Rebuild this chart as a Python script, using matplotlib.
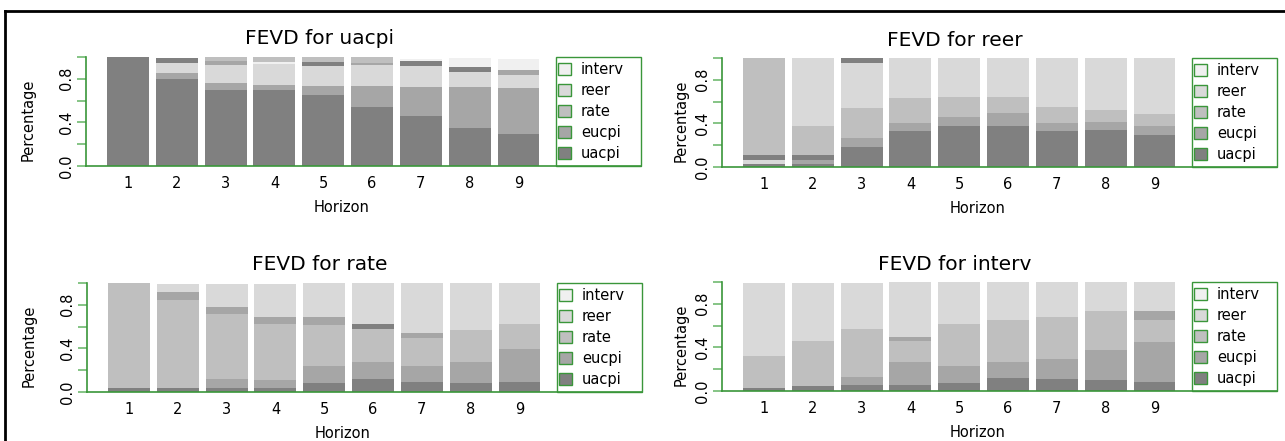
import matplotlib
matplotlib.use("Agg")
import matplotlib.pyplot as plt
from matplotlib.patches import Patch, Rectangle
from matplotlib.lines import Line2D

plt.rcParams["font.family"] = ["DejaVu Sans"]

W, H = 1285, 441

horizon = [1, 2, 3, 4, 5, 6, 7, 8, 9]
series = ["uacpi", "eucpi", "rate", "reer", "interv"]
shades = {
    "uacpi":  "#808080",
    "eucpi":  "#a6a6a6",
    "rate":   "#bfbfbf",
    "reer":   "#d9d9d9",
    "interv": "#f0f0f0",
}

# stacked segments of each bar, bottom -> top, as (series, cumulative top)
fevd_uacpi = [
    [("uacpi", 1.00)],
    [("uacpi", 0.80), ("eucpi", 0.856), ("reer", 0.948), ("uacpi", 0.99)],
    [("uacpi", 0.694), ("eucpi", 0.765), ("reer", 0.927), ("eucpi", 0.963), ("rate", 1.00)],
    [("uacpi", 0.694), ("eucpi", 0.74), ("reer", 0.933), ("interv", 0.954), ("rate", 1.00)],
    [("uacpi", 0.648), ("eucpi", 0.734), ("reer", 0.917), ("uacpi", 0.957), ("rate", 1.00)],
    [("uacpi", 0.538), ("eucpi", 0.734), ("reer", 0.927), ("eucpi", 0.948), ("rate", 1.00)],
    [("uacpi", 0.46), ("eucpi", 0.724), ("reer", 0.914), ("uacpi", 0.96), ("interv", 0.985)],
    [("uacpi", 0.346), ("eucpi", 0.728), ("reer", 0.865), ("uacpi", 0.911), ("interv", 0.988)],
    [("uacpi", 0.29), ("eucpi", 0.719), ("reer", 0.835), ("eucpi", 0.881), ("interv", 0.982)],
]

fevd_reer = [
    [("uacpi", 0.031), ("reer", 0.068), ("uacpi", 0.108), ("rate", 1.00)],
    [("uacpi", 0.031), ("eucpi", 0.068), ("uacpi", 0.108), ("rate", 0.38), ("reer", 1.00)],
    [("uacpi", 0.187), ("eucpi", 0.27), ("rate", 0.537), ("reer", 0.955), ("uacpi", 1.00)],
    [("uacpi", 0.331), ("eucpi", 0.405), ("rate", 0.635), ("reer", 1.00)],
    [("uacpi", 0.377), ("eucpi", 0.46), ("rate", 0.644), ("reer", 1.00)],
    [("uacpi", 0.377), ("eucpi", 0.497), ("rate", 0.644), ("reer", 1.00)],
    [("uacpi", 0.331), ("eucpi", 0.405), ("rate", 0.552), ("reer", 1.00)],
    [("uacpi", 0.335), ("eucpi", 0.41), ("rate", 0.52), ("reer", 1.00)],
    [("uacpi", 0.297), ("eucpi", 0.38), ("rate", 0.488), ("reer", 1.00)],
]

fevd_rate = [
    [("uacpi", 0.037), ("rate", 1.00)],
    [("uacpi", 0.037), ("rate", 0.844), ("eucpi", 0.92), ("reer", 0.994)],
    [("uacpi", 0.037), ("eucpi", 0.119), ("rate", 0.719), ("eucpi", 0.78), ("reer", 0.994)],
    [("uacpi", 0.037), ("eucpi", 0.11), ("rate", 0.624), ("eucpi", 0.691), ("reer", 0.994)],
    [("uacpi", 0.086), ("eucpi", 0.242), ("rate", 0.618), ("eucpi", 0.691), ("reer", 1.00)],
    [("uacpi", 0.122), ("eucpi", 0.278), ("rate", 0.581), ("uacpi", 0.624), ("reer", 1.00)],
    [("uacpi", 0.095), ("eucpi", 0.242), ("rate", 0.50), ("eucpi", 0.544), ("reer", 1.00)],
    [("uacpi", 0.086), ("eucpi", 0.278), ("rate", 0.572), ("reer", 1.00)],
    [("uacpi", 0.095), ("eucpi", 0.398), ("rate", 0.627), ("reer", 1.00)],
]

fevd_interv = [
    [("uacpi", 0.031), ("rate", 0.322), ("reer", 0.994)],
    [("uacpi", 0.049), ("rate", 0.46), ("reer", 0.994)],
    [("uacpi", 0.058), ("eucpi", 0.132), ("rate", 0.571), ("reer", 0.994)],
    [("uacpi", 0.058), ("eucpi", 0.267), ("rate", 0.46), ("eucpi", 0.497), ("reer", 1.00)],
    [("uacpi", 0.077), ("eucpi", 0.23), ("rate", 0.617), ("reer", 1.00)],
    [("uacpi", 0.123), ("eucpi", 0.267), ("rate", 0.653), ("reer", 1.00)],
    [("uacpi", 0.113), ("eucpi", 0.298), ("rate", 0.681), ("reer", 1.00)],
    [("uacpi", 0.099), ("eucpi", 0.377), ("rate", 0.731), ("reer", 1.00)],
    [("uacpi", 0.08), ("eucpi", 0.454), ("rate", 0.654), ("eucpi", 0.731), ("reer", 1.00)],
]

# title, data, (axes left px, axes bottom px), ylabel x offset
panels = [
    ("FEVD for uacpi",  fevd_uacpi,  (86, 166),  -0.09),
    ("FEVD for reer",   fevd_reer,   (722, 167), -0.061),
    ("FEVD for rate",   fevd_rate,   (87, 392),  -0.09),
    ("FEVD for interv", fevd_interv, (722, 391), -0.061),
]

AX_GREEN = "#3a963a"
TICK_GREEN = "#7cbf7c"

fig = plt.figure(figsize=(W / 100, H / 100), dpi=100)
fig.patch.set_facecolor("white")

for title, bars, (left, bottom), ylab_x in panels:
    ax = fig.add_axes([left / W, (H - bottom) / H, 555 / W, 109 / H])
    for h, segs in zip(horizon, bars):
        base = 0.0
        for name, top in segs:
            ax.bar(h, top - base, bottom=base, width=0.86,
                   color=shades[name], linewidth=0)
            base = top

    ax.set_xlim(0.139, 11.51)
    ax.set_ylim(0, 1.0)
    for s in ("top", "right"):
        ax.spines[s].set_visible(False)
    for s in ("left", "bottom"):
        ax.spines[s].set_color(AX_GREEN)
        ax.spines[s].set_linewidth(1.2)

    ax.set_xticks(horizon)
    ax.set_xticklabels([str(h) for h in horizon], fontsize=10.5)
    ax.tick_params(axis="x", length=0, pad=7)
    ax.set_yticks([0, 0.2, 0.4, 0.6, 0.8, 1.0])
    ax.set_yticklabels(["0.0", "", "0.4", "", "0.8", ""], rotation=90,
                       va="center", fontsize=10.5)
    ax.tick_params(axis="y", length=6.5, width=1.3, color=TICK_GREEN, pad=2)

    ax.set_title(title, fontsize=14.5, x=0.42, pad=9)
    ax.set_xlabel("Horizon", fontsize=10.5)
    ax.xaxis.set_label_coords(0.46, -0.31)
    ax.set_ylabel("Percentage", fontsize=10.5)
    ax.yaxis.set_label_coords(ylab_x, 0.42)

    # legend box
    ax.add_patch(Rectangle((0.847, 0), 0.153, 1.0, transform=ax.transAxes,
                           fill=False, edgecolor=AX_GREEN, linewidth=1.0,
                           clip_on=False))
    handles = [Patch(facecolor=shades[n], edgecolor=AX_GREEN, linewidth=1.0)
               for n in reversed(series)]
    ax.legend(handles, list(reversed(series)), loc="center left",
              bbox_to_anchor=(0.851, 0.5), frameon=False, fontsize=10.5,
              handlelength=0.85, handleheight=0.85, handletextpad=0.7,
              labelspacing=0.42, borderpad=0, borderaxespad=0)

# outer frame of the page
fig.add_artist(Line2D([5 / W, 5 / W], [0, (H - 11) / H], color="black", linewidth=2))
fig.add_artist(Line2D([5 / W, 1.0], [(H - 11) / H, (H - 11) / H], color="black", linewidth=2))

fig.savefig("out.png", dpi=100, facecolor="white")
